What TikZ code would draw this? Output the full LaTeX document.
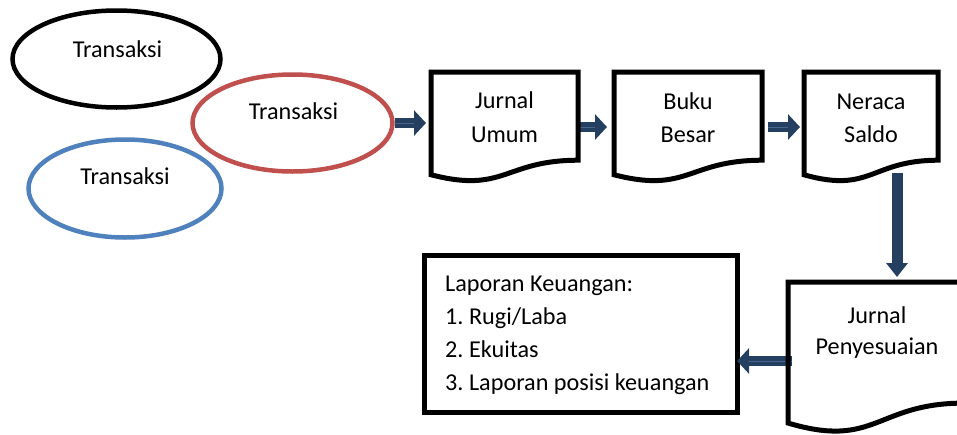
\documentclass[tikz,border=0pt]{standalone}
\usepackage{fontspec}
\setmainfont{Carlito}
\usetikzlibrary{shapes.geometric,arrows.meta,calc}
\definecolor{arrowblue}{HTML}{243F60}
\definecolor{arrowlight}{HTML}{46668F}
\definecolor{ellred}{HTML}{C0504D}
\definecolor{ellblue}{HTML}{4F81BD}
\newcommand\docpath[1]{\draw[docline] (#1.north west) -- (#1.north east) -- ($(#1.north east)!0.802!(#1.south east)$) .. controls ($(#1.north)!0.802!(#1.south)$) and ($(#1.north)!1.1075!(#1.south)$) .. ($(#1.north west)!0.934!(#1.south west)$) -- cycle;}
\frenchspacing
\begin{document}
\begin{tikzpicture}[x=1pt,y=-1pt,
  txt/.style={font=\fontsize{24.2}{33}\selectfont, inner sep=0pt, anchor=base},
  ltxt/.style={font=\fontsize{24.2}{33}\selectfont, inner sep=0pt, anchor=base west},
  oval/.style={ellipse, draw, line width=4.5pt, inner sep=0pt},
  docbox/.style={rectangle, draw=none, inner sep=0pt, outer sep=0pt},
  docline/.style={draw=black, line width=5pt, line join=miter},
  harrow/.style={draw=arrowblue, line width=10pt, -{Triangle[width=25pt,length=12pt]}},
  varrow/.style={draw=arrowblue, line width=11pt, -{Triangle[width=21pt,length=14pt]}},
  midline/.style={draw=arrowlight, line width=0.7pt},
]
\useasboundingbox (0,0) rectangle (957,434);
% ovals
\node[oval, draw=black, minimum width=208pt, minimum height=97pt] (blk) at (116.5,59) {};
\node[oval, draw=ellred, minimum width=200pt, minimum height=97pt] (red) at (292.5,123) {};
\node[oval, draw=ellblue, minimum width=193pt, minimum height=98pt] (blu) at (125,188.5) {};
\node[txt] (t1) at (117.5,57) {Transaksi};
\node[txt] (t2) at (293.5,119) {Transaksi};
\node[txt] (t3) at (125,184) {Transaksi};
% document boxes
\node[docbox, minimum width=147pt, minimum height=110pt] (ju) at (504.5,127) {};
\node[docbox, minimum width=148pt, minimum height=110pt] (bb) at (688,127) {};
\node[docbox, minimum width=134pt, minimum height=110pt] (ns) at (871,127) {};
\node[docbox, minimum width=176pt, minimum height=151pt] (jp) at (876,357.5) {};
\node[rectangle, draw=black, line width=5pt, minimum width=313pt, minimum height=157pt, inner sep=0pt] (lap) at (581,334) {};
% arrows
\draw[harrow, shorten >=5pt] (red.east) -- (red.east -| ju.west);
\draw[midline, shorten >=17pt] (red.east) -- (red.east -| ju.west);
\draw[harrow, shorten >=7pt] (ju.east) -- (bb.west);
\draw[midline, shorten >=19pt] (ju.east) -- (bb.west);
\draw[harrow, shorten <=6pt, shorten >=4pt] (bb.east) -- (ns.west);
\draw[midline, shorten <=6pt, shorten >=16pt] (bb.east) -- (ns.west);
\coordinate (d1) at ([xshift=26pt,yshift=9pt]ns.south);
\draw[varrow, shorten >=5pt] (d1) -- (d1 |- jp.north);
\coordinate (l1) at ([xshift=4pt,yshift=-3.5pt]jp.west);
\draw[harrow, shorten >=-3pt] (l1) -- (l1 -| lap.east);
\draw[midline, shorten >=9pt] (l1) -- (l1 -| lap.east);
% document outlines
\docpath{ju}
\docpath{bb}
\docpath{ns}
\docpath{jp}
% texts
\node[txt] (ju1) at (504.5,108) {Jurnal};
\node[txt] (ju2) at (504.5,142) {Umum};
\node[txt] (bb1) at (688,109) {Buku};
\node[txt] (bb2) at (688,142) {Besar};
\node[txt] (ns1) at (871,109) {Neraca};
\node[txt] (ns2) at (871,142) {Saldo};
\node[txt] (jp1) at (877,323) {Jurnal};
\node[txt] (jp2) at (877,354) {Penyesuaian};
\node[ltxt] (l0) at (445,291.5) {Laporan Keuangan:};
\node[ltxt] (l1t) at (445,324.5) {1. Rugi/Laba};
\node[ltxt] (l2t) at (445,357.5) {2. Ekuitas};
\node[ltxt] (l3t) at (445,390.5) {3. Laporan posisi keuangan};
\end{tikzpicture}
\end{document}
